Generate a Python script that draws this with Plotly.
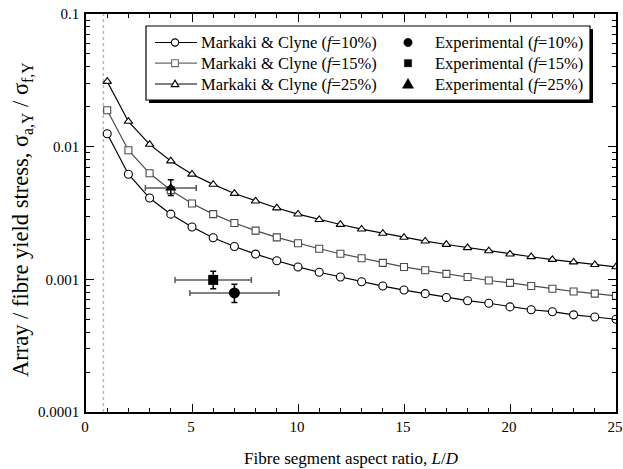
import plotly.graph_objects as go

# ---- data ----
aspect_ratio = list(range(1, 26))
mc_f10 = [0.0125, 0.0062, 0.0041, 0.0031, 0.00248, 0.00206, 0.00177, 0.00155, 0.00138, 0.00124,
          0.00113, 0.00104, 0.00096, 0.00089, 0.00083, 0.00078, 0.00073, 0.00069, 0.00066, 0.00062,
          0.00059, 0.00057, 0.00054, 0.00052, 0.00050]
mc_f15 = [0.0188, 0.0094, 0.0063, 0.0047, 0.00373, 0.0031, 0.00266, 0.00233, 0.00207, 0.00187,
          0.0017, 0.00156, 0.00144, 0.00133, 0.00124, 0.00117, 0.0011, 0.00104, 0.00098, 0.00094,
          0.00089, 0.00085, 0.00081, 0.00078, 0.00075]
mc_f25 = [0.031, 0.0155, 0.0104, 0.0078, 0.0062, 0.0052, 0.00444, 0.00389, 0.00345, 0.0031,
          0.00282, 0.00259, 0.00239, 0.00222, 0.00207, 0.00194, 0.00183, 0.00173, 0.00164, 0.00155,
          0.00148, 0.00141, 0.00135, 0.00129, 0.00124]
model_labels = ["Markaki & Clyne (<i>f</i>=10%)", "Markaki & Clyne (<i>f</i>=15%)",
                "Markaki & Clyne (<i>f</i>=25%)"]

exp_labels = ["Experimental (<i>f</i>=10%)", "Experimental (<i>f</i>=15%)", "Experimental (<i>f</i>=25%)"]
exp_x = [7, 6, 4]
exp_y = [0.00079, 0.00099, 0.00488]
exp_xerr = [2.1, 1.8, 1.2]
exp_yerr_plus = [0.00013, 0.00016, 0.00074]
exp_yerr_minus = [0.00012, 0.00014, 0.00060]

ref_line_x = 0.82
y_tickvals = [0.0001, 0.001, 0.01, 0.1]
y_ticktext = ["0.0001", "0.001", "0.01", "0.1"]

FONT = "Liberation Serif"
GRAY = "#4a4a4a"

W, H = 623, 469
ml, mr, mt, mb = 86, 7, 14, 57
pw, ph = W - ml - mr, H - mt - mb


def px(p):
    return (p - ml) / pw


def py(p):
    return (H - mb - p) / ph


fig = go.Figure()

model_style = [("circle", "black", 8), ("square", GRAY, 7), ("triangle-up", "black", 7.5)]
for name, ys, (sym, col, sz) in zip(model_labels, [mc_f10, mc_f15, mc_f25], model_style):
    fig.add_trace(go.Scatter(
        x=aspect_ratio, y=ys, mode="lines+markers", name=name, showlegend=False,
        line=dict(color=col, width=1.2),
        marker=dict(symbol=sym, size=sz, color="white", line=dict(color=col, width=1.1)),
    ))

exp_style = [("circle", 11), ("square", 10), ("triangle-up", 10)]
for i in range(3):
    fig.add_trace(go.Scatter(
        x=[exp_x[i]], y=[exp_y[i]], mode="markers", name=exp_labels[i], showlegend=False,
        marker=dict(symbol=exp_style[i][0], size=exp_style[i][1], color="black"),
        error_x=dict(type="data", array=[exp_xerr[i]], color="#5a5a5a", thickness=1.5, width=3),
        error_y=dict(type="data", array=[exp_yerr_plus[i]], arrayminus=[exp_yerr_minus[i]],
                     color="black", thickness=1.5, width=3),
    ))

# dotted reference line
fig.add_shape(type="line", xref="x", yref="paper", x0=ref_line_x, x1=ref_line_x, y0=0, y1=1,
              line=dict(color="#b8b8b8", width=1.5, dash="dot"), layer="below")

# ---- hand-built legend (frame with drop shadow, symbols, texts) ----
L, R, T, B = 146, 590, 26, 100
fig.add_shape(type="rect", xref="paper", yref="paper", x0=px(L + 3), x1=px(R + 3), y0=py(B + 3), y1=py(T + 3),
              fillcolor="black", line=dict(width=0), layer="above")
fig.add_shape(type="rect", xref="paper", yref="paper", x0=px(L), x1=px(R), y0=py(B), y1=py(T),
              fillcolor="white", line=dict(color="black", width=1.2), layer="above")

rows = [42.5, 63.2, 84]
line_cols = ["black", "#6a6a6a", "black"]


def pix_shape(kind, cx, cy, pts=None, **kw):
    d = dict(xref="paper", yref="paper", xsizemode="pixel", ysizemode="pixel",
             xanchor=px(cx), yanchor=py(cy), layer="above")
    if kind == "path":
        d.update(type="path", path=pts)
    else:
        d.update(type=kind, x0=pts[0], x1=pts[1], y0=pts[2], y1=pts[3])
    d.update(kw)
    fig.add_shape(**d)


for i, ry in enumerate(rows):
    c = line_cols[i]
    fig.add_shape(type="line", xref="paper", yref="paper", x0=px(155), x1=px(197), y0=py(ry), y1=py(ry),
                  line=dict(color=c, width=1.2), layer="above")
    if i == 0:
        pix_shape("circle", 175, ry, [-3.6, 3.6, -3.6, 3.6], fillcolor="white", line=dict(color=c, width=1.1))
        pix_shape("circle", 408, ry, [-4.2, 4.2, -4.2, 4.2], fillcolor="black", line=dict(color="black", width=0.5))
    elif i == 1:
        pix_shape("rect", 175, ry, [-3.4, 3.4, -3.4, 3.4], fillcolor="white", line=dict(color=c, width=1.1))
        pix_shape("rect", 408, ry, [-3.6, 3.6, -3.6, 3.6], fillcolor="black", line=dict(color="black", width=0.5))
    else:
        pix_shape("path", 175, ry, "M-3.8,-2.6L3.8,-2.6L0,3.9Z", fillcolor="white", line=dict(color=c, width=1.1))
        pix_shape("path", 408, ry, "M-5.6,-4.2L5.6,-4.2L0,5.6Z", fillcolor="black", line=dict(color="black", width=0.5))
    fig.add_annotation(text=model_labels[i], xref="paper", yref="paper", x=px(199), y=py(ry),
                       xanchor="left", yanchor="middle", showarrow=False,
                       font=dict(family=FONT, size=16.5, color="black"))
    fig.add_annotation(text=exp_labels[i], xref="paper", yref="paper", x=px(433), y=py(ry),
                       xanchor="left", yanchor="middle", showarrow=False,
                       font=dict(family=FONT, size=16.5, color="black"))

# y-axis title
fig.add_annotation(text="Array / fibre yield stress, σ<sub>a,Y</sub> / σ<sub>f,Y</sub>",
                   xref="paper", yref="paper", x=px(22), y=py(220), xanchor="center", yanchor="middle",
                   textangle=-90, showarrow=False, font=dict(family=FONT, size=22.5, color="black"))

axis_common = dict(showgrid=False, zeroline=False, showline=True, linecolor="black", linewidth=1.5,
                   mirror="ticks", ticks="inside", tickcolor="black", tickwidth=1.2, ticklen=8,
                   automargin=False, tickfont=dict(family=FONT, size=15, color="black"))

fig.update_layout(
    width=W, height=H,
    margin=dict(l=ml, r=mr, t=mt, b=mb),
    paper_bgcolor="white", plot_bgcolor="white",
    font=dict(family=FONT, size=15, color="black"),
    showlegend=False,
    xaxis=dict(range=[0, 25], dtick=5, tick0=0, ticklabeloverflow="allow", ticklabelshift=-1,
               minor=dict(dtick=1, ticks="inside", ticklen=4, tickcolor="black", tickwidth=1.2),
               title=dict(text="Fibre segment aspect ratio, <i>L</i>/<i>D</i>",
                          font=dict(family=FONT, size=17), standoff=18),
               **axis_common),
    yaxis=dict(type="log", range=[-4, -1], tickmode="array", tickvals=y_tickvals, ticktext=y_ticktext,
               ticklabelstandoff=2,
               minor=dict(dtick="D1", ticks="inside", ticklen=4, tickcolor="black", tickwidth=1.2),
               **axis_common),
)

fig.write_html("out.html", config={"displayModeBar": False},
               post_script="document.body.style.margin='0px';document.body.style.overflow='hidden';")
